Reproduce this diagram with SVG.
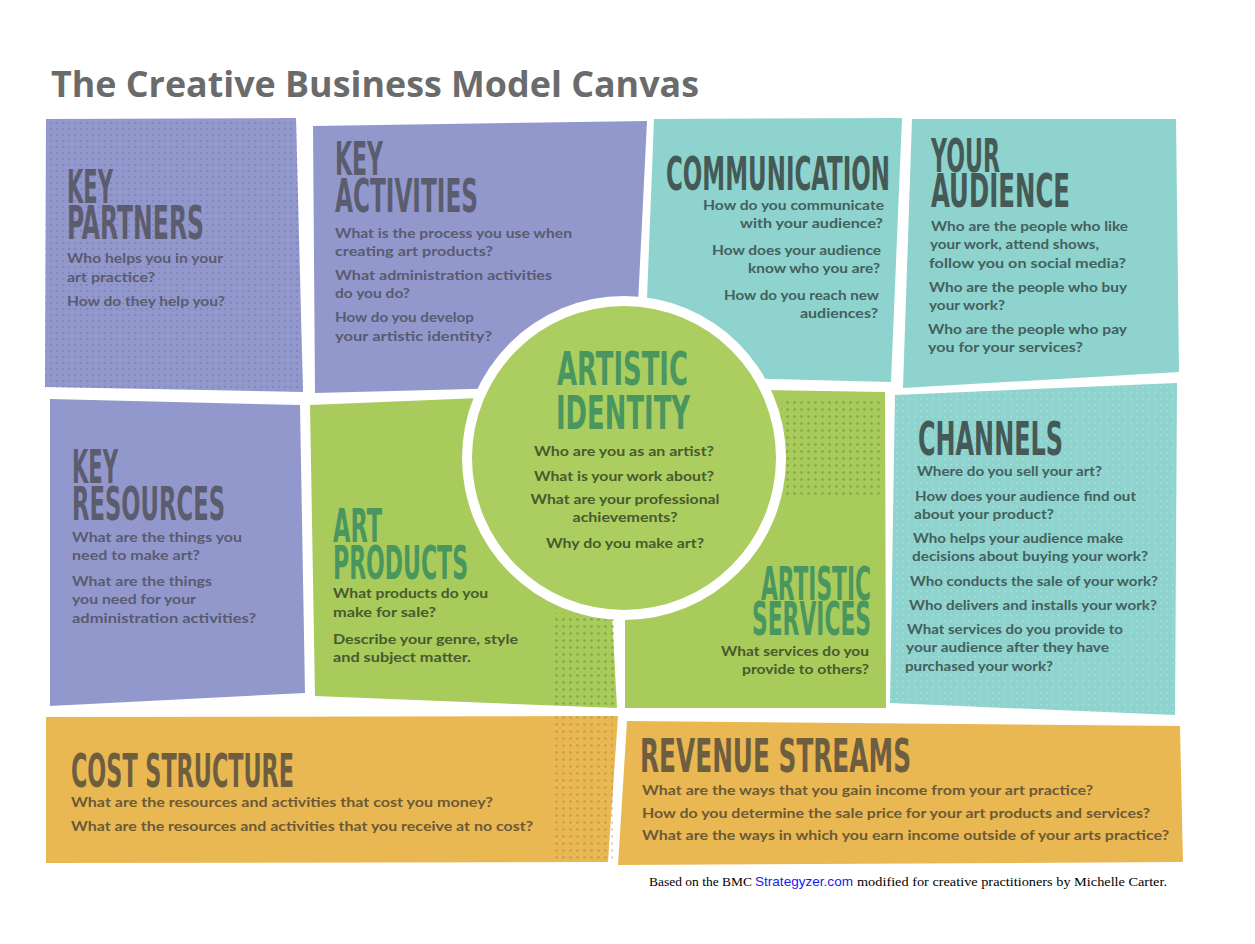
<svg xmlns="http://www.w3.org/2000/svg" width="1255" height="944" viewBox="0 0 1255 944">
<defs>
<style>
.h{font-family:"Liberation Sans Narrow","DejaVu Sans Condensed",sans-serif;font-weight:700;font-size:47px}
.b{font-family:Lato,"Noto Sans",sans-serif;font-weight:700;font-size:14px}
.e{text-anchor:end}
.m{text-anchor:middle}
.hp{fill:#5b5d6e}.ht{fill:#455a56}.hg{fill:#49965f}.ho{fill:#6e5e40}
.bp{fill:#595b6f}.bt{fill:#44605c}.bg{fill:#485a2e}.bo{fill:#6b5a38}
.pur{fill:#9398cc}.tea{fill:#8ed3ce}.grn{fill:#a8cb5b}.org{fill:#eab852}
</style>
<pattern id="dP" width="6" height="6" patternUnits="userSpaceOnUse"><circle cx="3" cy="3" r="1.1" fill="#7075a8" opacity="0.55"/></pattern>
<pattern id="dT" width="6" height="6" patternUnits="userSpaceOnUse"><circle cx="3" cy="3" r="1.1" fill="#ffffff" opacity="0.18"/></pattern>
<pattern id="dG" width="7" height="7" patternUnits="userSpaceOnUse"><circle cx="3.5" cy="3.5" r="1.3" fill="#6f9a3a" opacity="0.7"/></pattern>
<pattern id="dO" width="7" height="7" patternUnits="userSpaceOnUse"><circle cx="3.5" cy="3.5" r="1.3" fill="#7a6a50" opacity="0.35"/></pattern>
</defs>
<rect width="1255" height="944" fill="#ffffff"/>
<text x="51" y="97" font-family="'Open Sans',sans-serif" font-weight="700" font-size="36" fill="#6b6b6b" textLength="648" lengthAdjust="spacingAndGlyphs">The Creative Business Model Canvas</text>

<g id="key-partners">
<polygon class="pur" points="46,119 296,118 303,392 45,387"/>
<polygon fill="url(#dP)" points="46,119 296,118 303,392 45,387"/>
<text class="h hp" x="67" y="203" textLength="46" lengthAdjust="spacingAndGlyphs">KEY</text>
<text class="h hp" x="67" y="239" textLength="137" lengthAdjust="spacingAndGlyphs">PARTNERS</text>
<text class="b bp" x="67" y="263" textLength="156" lengthAdjust="spacingAndGlyphs">Who helps you in your</text>
<text class="b bp" x="67" y="282" textLength="88" lengthAdjust="spacingAndGlyphs">art practice?</text>
<text class="b bp" x="67" y="306" textLength="158" lengthAdjust="spacingAndGlyphs">How do they help you?</text>
</g>

<g id="key-activities">
<polygon class="pur" points="313,126 647,121 634,385 315,393"/>
<text class="h hp" x="335" y="175" textLength="48" lengthAdjust="spacingAndGlyphs">KEY</text>
<text class="h hp" x="335" y="212" textLength="143" lengthAdjust="spacingAndGlyphs">ACTIVITIES</text>
<text class="b bp" x="335" y="238" textLength="237" lengthAdjust="spacingAndGlyphs">What is the process you use when</text>
<text class="b bp" x="335" y="256" textLength="158" lengthAdjust="spacingAndGlyphs">creating art products?</text>
<text class="b bp" x="335" y="280" textLength="217" lengthAdjust="spacingAndGlyphs">What administration activities</text>
<text class="b bp" x="335" y="298" textLength="75" lengthAdjust="spacingAndGlyphs">do you do?</text>
<text class="b bp" x="335" y="322" textLength="139" lengthAdjust="spacingAndGlyphs">How do you develop</text>
<text class="b bp" x="335" y="341" textLength="157" lengthAdjust="spacingAndGlyphs">your artistic identity?</text>
</g>

<g id="communication">
<polygon class="tea" points="654,119 902,118 891,382 644,376"/>
<text class="h ht" x="666" y="190" textLength="224" lengthAdjust="spacingAndGlyphs">COMMUNICATION</text>
<text class="b bt e" x="884" y="210" textLength="181" lengthAdjust="spacingAndGlyphs">How do you communicate</text>
<text class="b bt e" x="883" y="228" textLength="143" lengthAdjust="spacingAndGlyphs">with your audience?</text>
<text class="b bt e" x="881" y="255" textLength="169" lengthAdjust="spacingAndGlyphs">How does your audience</text>
<text class="b bt e" x="880" y="273" textLength="132" lengthAdjust="spacingAndGlyphs">know who you are?</text>
<text class="b bt e" x="879" y="300" textLength="155" lengthAdjust="spacingAndGlyphs">How do you reach new</text>
<text class="b bt e" x="878" y="318" textLength="78" lengthAdjust="spacingAndGlyphs">audiences?</text>
</g>

<g id="your-audience">
<polygon class="tea" points="912,119 1176,119 1179,372 903,388"/>
<text class="h ht" x="931" y="172" textLength="69" lengthAdjust="spacingAndGlyphs">YOUR</text>
<text class="h ht" x="931" y="207" textLength="139" lengthAdjust="spacingAndGlyphs">AUDIENCE</text>
<text class="b bt" x="931" y="231" textLength="197" lengthAdjust="spacingAndGlyphs">Who are the people who like</text>
<text class="b bt" x="930" y="249" textLength="169" lengthAdjust="spacingAndGlyphs">your work, attend shows,</text>
<text class="b bt" x="929" y="268" textLength="197" lengthAdjust="spacingAndGlyphs">follow you on social media?</text>
<text class="b bt" x="929" y="292" textLength="198" lengthAdjust="spacingAndGlyphs">Who are the people who buy</text>
<text class="b bt" x="929" y="310" textLength="76" lengthAdjust="spacingAndGlyphs">your work?</text>
<text class="b bt" x="928" y="334" textLength="199" lengthAdjust="spacingAndGlyphs">Who are the people who pay</text>
<text class="b bt" x="928" y="352" textLength="155" lengthAdjust="spacingAndGlyphs">you for your services?</text>
</g>

<g id="key-resources">
<polygon class="pur" points="50,399 300,405 305,693 50,706"/>
<text class="h hp" x="72" y="483" textLength="46" lengthAdjust="spacingAndGlyphs">KEY</text>
<text class="h hp" x="72" y="520" textLength="153" lengthAdjust="spacingAndGlyphs">RESOURCES</text>
<text class="b bp" x="72" y="542" textLength="170" lengthAdjust="spacingAndGlyphs">What are the things you</text>
<text class="b bp" x="72" y="560" textLength="128" lengthAdjust="spacingAndGlyphs">need to make art?</text>
<text class="b bp" x="72" y="586" textLength="140" lengthAdjust="spacingAndGlyphs">What are the things</text>
<text class="b bp" x="72" y="604" textLength="124" lengthAdjust="spacingAndGlyphs">you need for your</text>
<text class="b bp" x="72" y="623" textLength="184" lengthAdjust="spacingAndGlyphs">administration activities?</text>
</g>

<g id="art-products">
<polygon class="grn" points="310,405 600,393 617,708 315,696"/>
<rect x="553" y="613" width="62" height="95" fill="url(#dG)"/>
<text class="h hg" x="333" y="542" textLength="49" lengthAdjust="spacingAndGlyphs">ART</text>
<text class="h hg" x="333" y="579" textLength="135" lengthAdjust="spacingAndGlyphs">PRODUCTS</text>
<text class="b bg" x="333" y="598" textLength="155" lengthAdjust="spacingAndGlyphs">What products do you</text>
<text class="b bg" x="333" y="617" textLength="103" lengthAdjust="spacingAndGlyphs">make for sale?</text>
<text class="b bg" x="333" y="644" textLength="185" lengthAdjust="spacingAndGlyphs">Describe your genre, style</text>
<text class="b bg" x="333" y="662" textLength="138" lengthAdjust="spacingAndGlyphs">and subject matter.</text>
</g>

<g id="artistic-services">
<polygon class="grn" points="640,388 885,392 886,708 625,708 625,520"/>
<rect x="781" y="397" width="103" height="102" fill="url(#dG)"/>
<text class="h hg" x="761" y="600" textLength="110" lengthAdjust="spacingAndGlyphs">ARTISTIC</text>
<text class="h hg" x="752" y="635" textLength="119" lengthAdjust="spacingAndGlyphs">SERVICES</text>
<text class="b bg e" x="869" y="656" textLength="148" lengthAdjust="spacingAndGlyphs">What services do you</text>
<text class="b bg e" x="869" y="674" textLength="127" lengthAdjust="spacingAndGlyphs">provide to others?</text>
</g>

<g id="artistic-identity">
<circle cx="624" cy="458" r="162" fill="#ffffff"/>
<circle cx="624" cy="458" r="152" fill="#acce60"/>
<text class="h hg" x="557" y="385" textLength="131" lengthAdjust="spacingAndGlyphs">ARTISTIC</text>
<text class="h hg" x="556" y="429" textLength="134" lengthAdjust="spacingAndGlyphs">IDENTITY</text>
<text class="b bg m" x="624" y="456" textLength="180" lengthAdjust="spacingAndGlyphs">Who are you as an artist?</text>
<text class="b bg m" x="624" y="481" textLength="180" lengthAdjust="spacingAndGlyphs">What is your work about?</text>
<text class="b bg m" x="625" y="504" textLength="189" lengthAdjust="spacingAndGlyphs">What are your professional</text>
<text class="b bg m" x="625" y="522" textLength="105" lengthAdjust="spacingAndGlyphs">achievements?</text>
<text class="b bg m" x="625" y="548" textLength="158" lengthAdjust="spacingAndGlyphs">Why do you make art?</text>
</g>

<g id="channels">
<polygon class="tea" points="895,395 1177,383 1175,715 890,703"/>
<polygon fill="url(#dT)" points="895,395 1177,383 1175,715 890,703"/>
<text class="h ht" x="918" y="455" textLength="145" lengthAdjust="spacingAndGlyphs">CHANNELS</text>
<text class="b bt" x="917" y="476" textLength="185" lengthAdjust="spacingAndGlyphs">Where do you sell your art?</text>
<text class="b bt" x="915" y="501" textLength="221" lengthAdjust="spacingAndGlyphs">How does your audience find out</text>
<text class="b bt" x="914" y="519" textLength="140" lengthAdjust="spacingAndGlyphs">about your product?</text>
<text class="b bt" x="913" y="543" textLength="210" lengthAdjust="spacingAndGlyphs">Who helps your audience make</text>
<text class="b bt" x="912" y="561" textLength="236" lengthAdjust="spacingAndGlyphs">decisions about buying your work?</text>
<text class="b bt" x="910" y="586" textLength="248" lengthAdjust="spacingAndGlyphs">Who conducts the sale of your work?</text>
<text class="b bt" x="909" y="610" textLength="248" lengthAdjust="spacingAndGlyphs">Who delivers and installs your work?</text>
<text class="b bt" x="907" y="634" textLength="216" lengthAdjust="spacingAndGlyphs">What services do you provide to</text>
<text class="b bt" x="906" y="652" textLength="203" lengthAdjust="spacingAndGlyphs">your audience after they have</text>
<text class="b bt" x="905" y="671" textLength="148" lengthAdjust="spacingAndGlyphs">purchased your work?</text>
</g>

<g id="cost-structure">
<polygon class="org" points="46,717 618,716 608,862 46,863"/>
<rect x="553" y="716" width="60" height="144" fill="url(#dO)"/>
<text class="h ho" x="71" y="787" textLength="223" lengthAdjust="spacingAndGlyphs">COST STRUCTURE</text>
<text class="b bo" x="71" y="807" textLength="422" lengthAdjust="spacingAndGlyphs">What are the resources and activities that cost you money?</text>
<text class="b bo" x="71" y="831" textLength="462" lengthAdjust="spacingAndGlyphs">What are the resources and activities that you receive at no cost?</text>
</g>

<g id="revenue-streams">
<polygon class="org" points="627,721 1180,726 1183,862 618,865"/>
<text class="h ho" x="640" y="772" textLength="271" lengthAdjust="spacingAndGlyphs">REVENUE STREAMS</text>
<text class="b bo" x="642" y="795" textLength="451" lengthAdjust="spacingAndGlyphs">What are the ways that you gain income from your art practice?</text>
<text class="b bo" x="642" y="818" textLength="508" lengthAdjust="spacingAndGlyphs">How do you determine the sale price for your art products and services?</text>
<text class="b bo" x="642" y="840" textLength="527" lengthAdjust="spacingAndGlyphs">What are the ways in which you earn income outside of your arts practice?</text>
</g>

<g id="footer">
<text x="649" y="886" font-family="'Liberation Serif',serif" font-size="13" fill="#000000" textLength="103" lengthAdjust="spacingAndGlyphs">Based on the BMC</text>
<text x="755" y="886" font-family="'Liberation Sans',sans-serif" font-size="13" fill="#1a1aee" textLength="98" lengthAdjust="spacingAndGlyphs">Strategyzer.com</text>
<text x="857" y="886" font-family="'Liberation Serif',serif" font-size="13" fill="#000000" textLength="310" lengthAdjust="spacingAndGlyphs">modified for creative practitioners by Michelle Carter.</text>
</g>
</svg>
